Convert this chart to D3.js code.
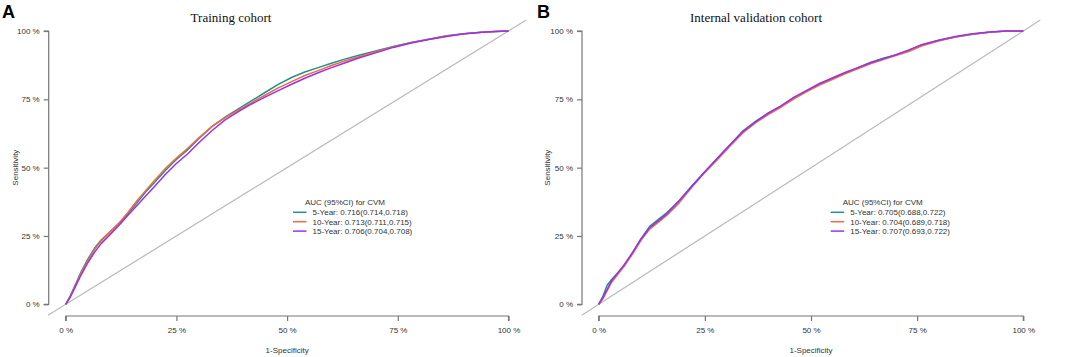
<!DOCTYPE html>
<html><head><meta charset="utf-8">
<script src="https://cdn.jsdelivr.net/npm/d3@7"></script>
<style>body{margin:0;background:#fff}svg{display:block}</style>
</head><body>
<script>
// ---------- data ----------
const seriesNames = ["5-Year", "10-Year", "15-Year"];
const seriesColors = ["#1F928C", "#F2683F", "#9B30F0"];
const tickValues = [0, 0.25, 0.5, 0.75, 1];
const tickLabels = ["0 %", "25 %", "50 %", "75 %", "100 %"];

const panelLetters = ["A", "B"];
const panelTitles = ["Training cohort", "Internal validation cohort"];
const legendTitle = "AUC (95%CI) for CVM";
const legendA = ["5-Year: 0.716(0.714,0.718)", "10-Year: 0.713(0.711,0.715)", "15-Year: 0.706(0.704,0.708)"];
const legendB = ["5-Year: 0.705(0.688,0.722)", "10-Year: 0.704(0.689,0.718)", "15-Year: 0.707(0.693,0.722)"];

const fprA = [0,0.01,0.02,0.035,0.05,0.065,0.08,0.1,0.12,0.14,0.16,0.18,0.2,0.225,0.25,0.275,0.3,0.33,0.36,0.39,0.42,0.45,0.48,0.51,0.54,0.57,0.6,0.63,0.66,0.7,0.74,0.78,0.82,0.86,0.9,0.94,0.97,1];
const tprA5  = [0,0.03,0.065,0.12,0.165,0.205,0.235,0.265,0.295,0.33,0.37,0.41,0.445,0.49,0.53,0.565,0.605,0.65,0.685,0.715,0.745,0.775,0.805,0.83,0.85,0.866,0.882,0.897,0.91,0.927,0.943,0.958,0.97,0.983,0.99,0.995,0.998,1];
const tprA10 = [0,0.028,0.062,0.115,0.16,0.2,0.232,0.265,0.297,0.335,0.377,0.415,0.452,0.497,0.535,0.57,0.608,0.65,0.683,0.71,0.738,0.765,0.792,0.815,0.837,0.855,0.874,0.89,0.905,0.924,0.942,0.957,0.97,0.982,0.99,0.995,0.998,1];
const tprA15 = [0,0.025,0.058,0.108,0.152,0.19,0.222,0.255,0.288,0.325,0.36,0.395,0.43,0.475,0.515,0.55,0.59,0.635,0.675,0.705,0.733,0.758,0.782,0.805,0.827,0.847,0.866,0.883,0.9,0.92,0.94,0.956,0.969,0.98,0.99,0.995,0.998,1];

const fprB = [0,0.01,0.02,0.03,0.045,0.06,0.08,0.1,0.12,0.14,0.16,0.19,0.22,0.25,0.28,0.31,0.34,0.37,0.4,0.43,0.46,0.49,0.52,0.55,0.58,0.61,0.64,0.67,0.7,0.73,0.76,0.8,0.84,0.88,0.92,0.96,1];
const tprB5  = [0,0.03,0.07,0.09,0.115,0.14,0.19,0.24,0.285,0.31,0.335,0.38,0.435,0.485,0.535,0.585,0.635,0.67,0.7,0.725,0.755,0.78,0.805,0.825,0.845,0.865,0.885,0.9,0.912,0.93,0.948,0.965,0.978,0.988,0.995,1,1];
const tprB10 = [0,0.02,0.05,0.08,0.11,0.14,0.185,0.235,0.275,0.3,0.325,0.372,0.43,0.482,0.53,0.58,0.628,0.665,0.695,0.722,0.752,0.778,0.802,0.822,0.843,0.862,0.88,0.896,0.91,0.925,0.945,0.963,0.978,0.988,0.995,1,1];
const tprB15 = [0,0.025,0.055,0.085,0.115,0.145,0.19,0.24,0.28,0.305,0.33,0.38,0.432,0.485,0.535,0.585,0.633,0.668,0.7,0.727,0.758,0.783,0.808,0.828,0.848,0.866,0.884,0.898,0.913,0.93,0.95,0.966,0.98,0.99,0.996,1,1];

// ---------- layout ----------
const W = 1065, H = 357;
const svg = d3.select("body").append("svg").attr("width", W).attr("height", H)
  .style("background", "#fff");

const panels = [
  { letter: panelLetters[0], title: panelTitles[0], fpr: fprA, tprs: [tprA5, tprA10, tprA15], legend: legendA,
    x0: 65.7, x1: 508.5, y0: 304.3, y1: 31, yAxisX: 48.7, xAxisY: 316,
    letterX: 2, titleX: 231, legX: 293, ylabX: 15 },
  { letter: panelLetters[1], title: panelTitles[1], fpr: fprB, tprs: [tprB5, tprB10, tprB15], legend: legendB,
    x0: 598.7, x1: 1023.3, y0: 304.3, y1: 31, yAxisX: 582, xAxisY: 316,
    letterX: 537, titleX: 756, legX: 830.7, ylabX: 547 }
];

const axisColor = "#777";
const textColor = "#333";

panels.forEach(p => {
  const x = d3.scaleLinear().domain([0, 1]).range([p.x0, p.x1]);
  const y = d3.scaleLinear().domain([0, 1]).range([p.y0, p.y1]);
  const g = svg.append("g");

  // diagonal reference line across plot region (R usr extends 4%)
  g.append("line")
    .attr("x1", x(-0.04)).attr("y1", y(-0.04))
    .attr("x2", x(1.04)).attr("y2", y(1.04))
    .attr("stroke", "#BDBDBD").attr("stroke-width", 1.3);

  // axes
  const yAxis = d3.axisLeft(y).tickValues(tickValues).tickFormat((d, i) => tickLabels[i]).tickSize(5).tickPadding(4);
  const ya = g.append("g").attr("transform", `translate(${p.yAxisX - p.x0},0)`).call(yAxis);
  ya.attr("transform", `translate(${p.yAxisX},0)`);
  // rebuild: axisLeft uses y positions only
  ya.call(yAxis);
  const xAxis = d3.axisBottom(x).tickValues(tickValues).tickFormat((d, i) => tickLabels[i]).tickSize(5).tickPadding(6);
  const xa = g.append("g").attr("transform", `translate(0,${p.xAxisY})`).call(xAxis);
  [ya, xa].forEach(a => {
    a.select(".domain").attr("stroke", axisColor).attr("stroke-width", 1.2);
    a.selectAll(".tick line").attr("stroke", axisColor).attr("stroke-width", 1.2);
    a.selectAll("text").attr("fill", textColor).style("font-family", "Arial, 'Liberation Sans', sans-serif").style("font-size", "8px");
  });
  // square-off y axis domain (remove outer ticks)
  ya.select(".domain").attr("d", `M-5,${y(1)}H0V${y(0)}H-5`);
  xa.select(".domain").attr("d", `M${x(0)},5V0H${x(1)}V5`);

  // curves
  const line = d3.line().x(d => x(d[0])).y(d => y(d[1]));
  p.tprs.forEach((tpr, i) => {
    const pts = p.fpr.map((f, k) => [f, tpr[k]]);
    g.append("path").datum(pts).attr("d", line)
      .attr("fill", "none").attr("stroke", seriesColors[i]).attr("stroke-width", 1.5)
      .attr("stroke-linejoin", "round");
  });

  // labels
  g.append("text").attr("x", p.letterX).attr("y", 18).text(p.letter)
    .style("font-family", "Arial, 'Liberation Sans', sans-serif").style("font-weight", "bold").style("font-size", "18px").attr("fill", "#000");
  g.append("text").attr("x", p.titleX).attr("y", 22).attr("text-anchor", "middle").text(p.title)
    .style("font-family", "'Liberation Serif', 'Times New Roman', serif").style("font-size", "13px").attr("fill", "#111");
  g.append("text").attr("x", (p.x0 + p.x1) / 2).attr("y", 353).attr("text-anchor", "middle").text("1-Specificity")
    .style("font-family", "Arial, 'Liberation Sans', sans-serif").style("font-size", "8px").attr("fill", textColor);
  g.append("text").attr("transform", `translate(${p.ylabX + 3},${(p.y0 + p.y1) / 2}) rotate(-90)`)
    .attr("text-anchor", "middle").text("Sensitivity")
    .style("font-family", "Arial, 'Liberation Sans', sans-serif").style("font-size", "8px").attr("fill", textColor);

  // legend
  const lg = g.append("g").style("font-family", "Arial, 'Liberation Sans', sans-serif").style("font-size", "8px");
  lg.append("text").attr("x", p.legX + 12).attr("y", 204.5).text(legendTitle).attr("fill", textColor);
  p.legend.forEach((t, i) => {
    const cy = 212.3 + i * 9.4;
    lg.append("line").attr("x1", p.legX).attr("x2", p.legX + 13.5).attr("y1", cy).attr("y2", cy)
      .attr("stroke", seriesColors[i]).attr("stroke-width", 1.5);
    lg.append("text").attr("x", p.legX + 19.5).attr("y", cy + 3).text(t).attr("fill", textColor);
  });
});
</script>
</body></html>
